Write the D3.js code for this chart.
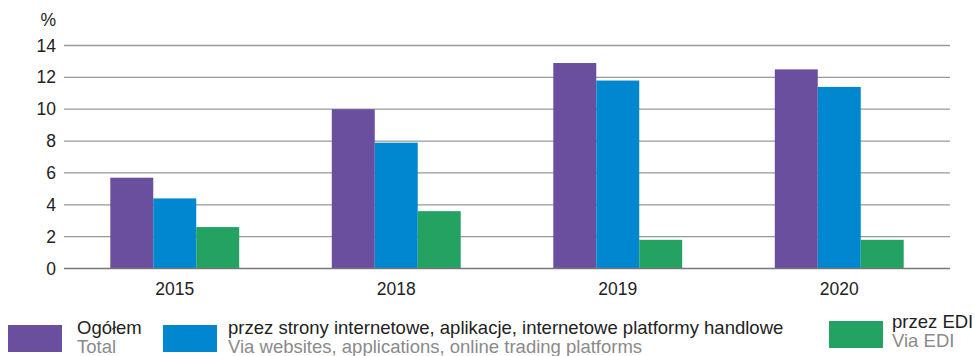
<!DOCTYPE html>
<html><head><meta charset="utf-8">
<script src="https://cdn.jsdelivr.net/npm/d3@7"></script>
<style>body{margin:0;background:#fff}svg{display:block;font-family:"Liberation Sans",Arial,sans-serif}</style>
</head><body>
<svg id="c" width="975" height="356"></svg>
<script>
const years = ["2015","2018","2019","2020"];
const ogolem = [5.7, 10.0, 12.9, 12.5];
const strony = [4.4, 7.9, 11.8, 11.4];
const edi = [2.6, 3.6, 1.8, 1.8];
const yTicks = [0,2,4,6,8,10,12,14];
const seriesNames = ["Ogółem","przez strony internetowe, aplikacje, internetowe platformy handlowe","przez EDI"];
const seriesNamesEn = ["Total","Via websites, applications, online trading platforms","Via EDI"];
const colors = ["#6b4f9f","#0087cf","#23a262"];
const series = [ogolem, strony, edi];

const svg = d3.select("#c");
const x = d3.scaleBand().domain(years).range([64,950]).paddingInner(0.418).paddingOuter(0.209);
const xs = d3.scaleBand().domain([0,1,2]).range([0,x.bandwidth()]);
const y = d3.scaleLinear().domain([0,14]).range([268.5,45.5]);

// grid
const yAxis = d3.axisLeft(y).tickValues(yTicks).tickSize(0).tickPadding(8);
const gy = svg.append("g").attr("transform","translate(64,0)").call(yAxis);
gy.select(".domain").remove();
gy.selectAll("text").attr("font-size",17.5).attr("fill","#222").attr("font-family","Liberation Sans, Arial, sans-serif");
svg.append("g").selectAll("line").data(yTicks.filter(d=>d>0)).join("line")
  .attr("x1",64).attr("x2",950).attr("y1",d=>y(d)).attr("y2",d=>y(d))
  .attr("stroke","#999").attr("stroke-width",1.3);

svg.append("text").attr("x",56).attr("y",26).attr("text-anchor","end").attr("font-size",17.5).attr("fill","#222").text("%");

// bars
series.forEach((s,i)=>{
  svg.append("g").selectAll("rect").data(years).join("rect")
    .attr("x",(d)=>x(d)+xs(i)).attr("width",xs.bandwidth())
    .attr("y",(d,j)=>y(s[j])).attr("height",(d,j)=>y(0)-y(s[j]))
    .attr("fill",colors[i]);
});

// x axis
const xAxis = d3.axisBottom(x).tickSize(0).tickPadding(14);
const gx = svg.append("g").attr("transform","translate(0,268.5)").call(xAxis);
gx.select(".domain").remove();
gx.selectAll("text").attr("font-size",17.5).attr("fill","#222").attr("font-family","Liberation Sans, Arial, sans-serif");
svg.append("line").attr("x1",64).attr("x2",950).attr("y1",268.5).attr("y2",268.5).attr("stroke","#777").attr("stroke-width",1.5);

// legend
const legPos = [{sx:8,sy:325,tx:77,t1:334,t2:353},{sx:163,sy:325,tx:228,t1:334,t2:353},{sx:829,sy:321,tx:892,t1:328,t2:347}];
const lg = svg.append("g");
legPos.forEach((p,i)=>{
  lg.append("rect").attr("x",p.sx).attr("y",p.sy).attr("width",54).attr("height",27).attr("fill",colors[i]);
  lg.append("text").attr("x",p.tx).attr("y",p.t1).attr("font-size",18.5).attr("fill","#222").text(seriesNames[i]);
  lg.append("text").attr("x",p.tx).attr("y",p.t2).attr("font-size",18.5).attr("fill","#8a8a8a").text(seriesNamesEn[i]);
});
</script>
</body></html>
